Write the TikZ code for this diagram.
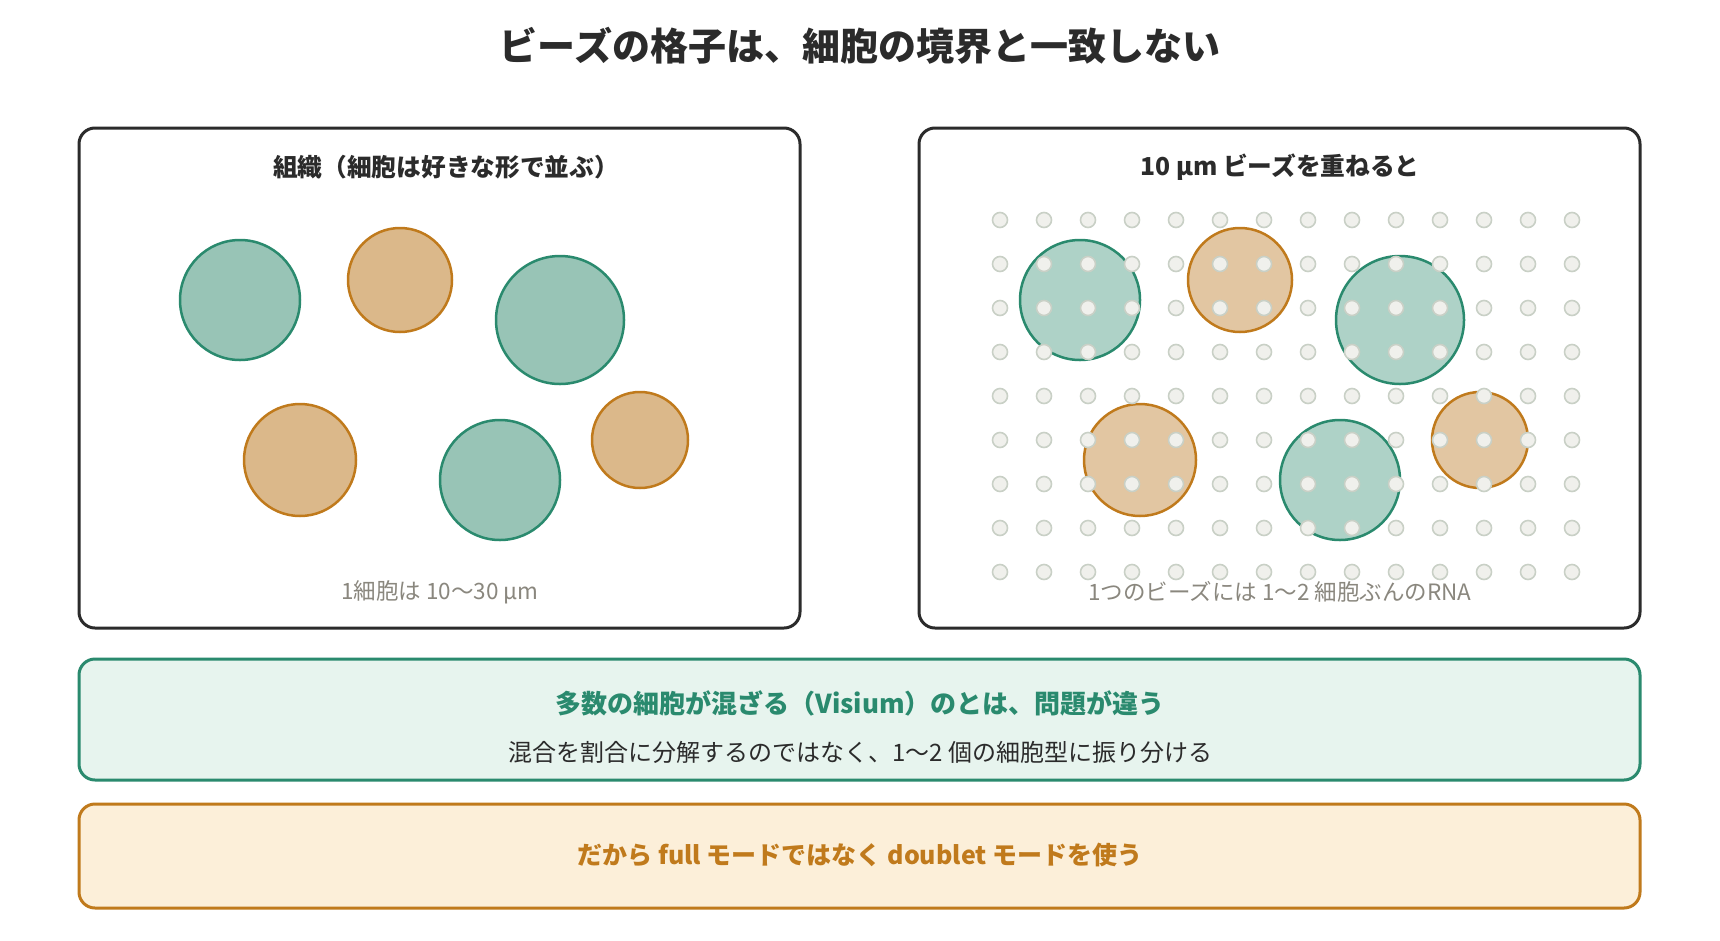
\documentclass[tikz,border=0pt]{standalone}
\usepackage{fontspec}
\setmainfont{Noto Sans CJK JP}
\definecolor{dark}{HTML}{2B2B2B}
\definecolor{teal}{HTML}{2A8A6E}
\definecolor{tealL}{HTML}{98C4B6}
\definecolor{tealR}{HTML}{AED2C7}
\definecolor{ochre}{HTML}{C07A1C}
\definecolor{ochreL}{HTML}{DBB88A}
\definecolor{ochreR}{HTML}{E2C6A2}
\definecolor{dotfill}{HTML}{F0F0EC}
\definecolor{dotdraw}{HTML}{C9D0C6}
\definecolor{capgray}{HTML}{8A877E}
\definecolor{tealbox}{HTML}{E7F4EE}
\definecolor{ochrebox}{HTML}{FCEFD9}
\tikzset{
  panel/.style={draw=dark, line width=3pt, rounded corners=16pt, fill=white},
  tcellL/.style={circle, draw=teal, line width=2.5pt, fill=tealL, inner sep=0pt},
  ocellL/.style={circle, draw=ochre, line width=2.5pt, fill=ochreL, inner sep=0pt},
  tcellR/.style={circle, draw=teal, line width=2.5pt, fill=tealR, inner sep=0pt},
  ocellR/.style={circle, draw=ochre, line width=2.5pt, fill=ochreR, inner sep=0pt},
  bead/.style={circle, draw=dotdraw, line width=1.6pt, fill=dotfill, minimum size=15pt, inner sep=0pt},
  titletext/.style={font=\fontsize{38}{45}\selectfont\bfseries, text=dark},
  paneltitle/.style={font=\fontsize{24.7}{30}\selectfont\bfseries, text=dark},
  caption/.style={font=\fontsize{22.5}{27}\selectfont, text=capgray},
}
\begin{document}
\begin{tikzpicture}[x=1pt,y=-1pt]
\useasboundingbox (0,0) rectangle (1720,940);
\fill[white] (0,0) rectangle (1720,940);
% title
\node[titletext] (title) at (860,46) {ビーズの格子は、細胞の境界と一致しない};
% panels
\draw[panel] (79,128) rectangle (800,628);
\draw[panel] (919,128) rectangle (1640,628);
\node[paneltitle] (ltitle) at (446,167) {組織（細胞は好きな形で並ぶ）};
\node[paneltitle] (rtitle) at (1280,167) {10 μm ビーズを重ねると};
% left cells
\node[tcellL, minimum size=120pt] (l1) at (240,300) {};
\node[ocellL, minimum size=104pt] (l2) at (400,280) {};
\node[tcellL, minimum size=128pt] (l3) at (560,320) {};
\node[ocellL, minimum size=112pt] (l4) at (300,460) {};
\node[tcellL, minimum size=120pt] (l5) at (500,480) {};
\node[ocellL, minimum size=96pt] (l6) at (640,440) {};
% right cells
\node[tcellR, minimum size=120pt] (r1) at (1080,300) {};
\node[ocellR, minimum size=104pt] (r2) at (1240,280) {};
\node[tcellR, minimum size=128pt] (r3) at (1400,320) {};
\node[ocellR, minimum size=112pt] (r4) at (1140,460) {};
\node[tcellR, minimum size=120pt] (r5) at (1340,480) {};
\node[ocellR, minimum size=96pt] (r6) at (1480,440) {};
% beads
\foreach \i in {0,...,13}{
  \foreach \j in {0,...,8}{
    \node[bead] (b-\i-\j) at ({1000+44*\i},{220+44*\j}) {};
  }
}
\node[caption] (lcap) at (440,592) {1細胞は 10〜30 μm};
\node[caption] (rcap) at (1280,592) {1つのビーズには 1〜2 細胞ぶんのRNA};
% teal box
\draw[draw=teal, fill=tealbox, line width=3pt, rounded corners=16pt] (79,659) rectangle (1640,780);
\node[font=\fontsize{26}{31}\selectfont\bfseries, text=teal] (th) at (860,703) {多数の細胞が混ざる（Visium）のとは、問題が違う};
\node[font=\fontsize{24}{29}\selectfont, text=dark] (tb) at (860,752) {混合を割合に分解するのではなく、1〜2 個の細胞型に振り分ける};
% ochre box
\draw[draw=ochre, fill=ochrebox, line width=3pt, rounded corners=16pt] (79,804) rectangle (1640,908);
\node[font=\fontsize{25}{30}\selectfont\bfseries, text=ochre] (ob) at (860,855) {だから full モードではなく doublet モードを使う};
\end{tikzpicture}
\end{document}
